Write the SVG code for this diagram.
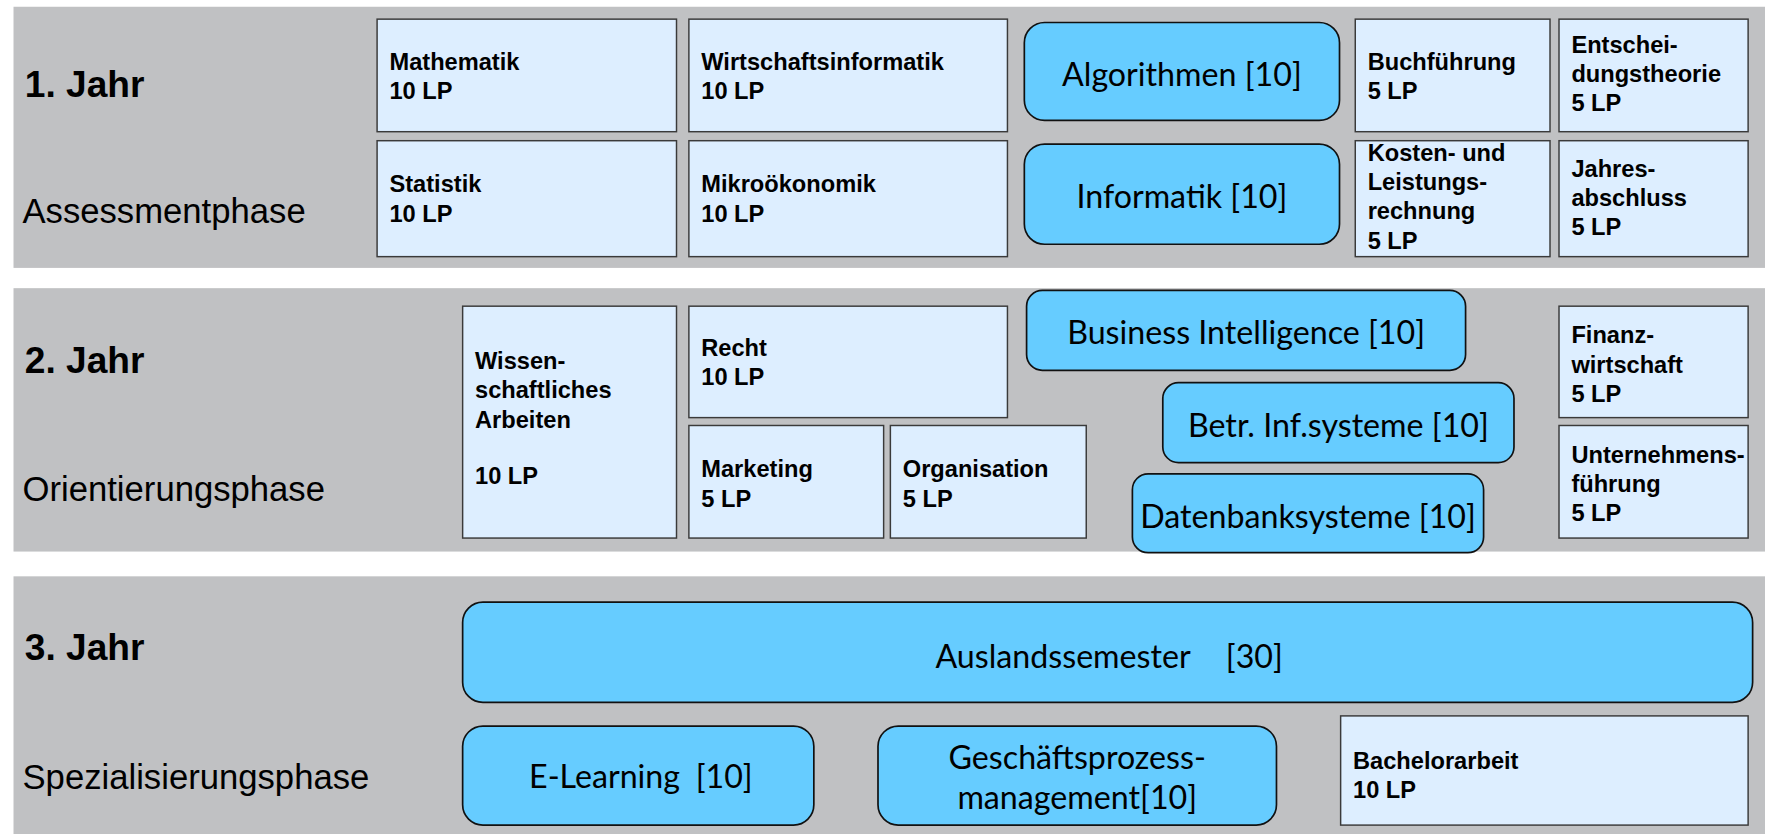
<svg xmlns="http://www.w3.org/2000/svg" width="1765" height="834" viewBox="0 0 1765 834">
<style>
.band{fill:#C0C1C3}
.box{fill:#DDEEFF;stroke:#3A3A3A;stroke-width:1.3}
.rb{fill:#66CCFF;stroke:#111;stroke-width:1.5}
.lb{font-family:"Liberation Sans",Arial,sans-serif;font-weight:bold;font-size:21px;fill:#000}
.yr{font-family:"Liberation Sans",Arial,sans-serif;font-weight:bold;font-size:33px;fill:#000}
.ph{font-family:"Liberation Sans",Arial,sans-serif;font-size:30.8px;fill:#000}
.rt{font-family:Lato,"Open Sans",sans-serif;font-size:28.6px;fill:#000;text-anchor:middle}
.rs{font-family:Lato,"Open Sans",sans-serif;font-size:28.6px;fill:#000}
</style>
<rect width="1765" height="834" fill="#fff"/>
<g transform="scale(1.12564)">
<g id="bands">
<rect class="band" x="12" y="6" width="1560" height="232"/>
<rect class="band" x="12" y="256" width="1560" height="234"/>
<rect class="band" x="12" y="512" width="1560" height="232"/>
<text class="yr" x="22" y="86">1. Jahr</text>
<text class="ph" x="20" y="198">Assessmentphase</text>
<text class="yr" x="22" y="331">2. Jahr</text>
<text class="ph" x="20" y="445">Orientierungsphase</text>
<text class="yr" x="22" y="586">3. Jahr</text>
<text class="ph" x="20" y="701">Spezialisierungsphase</text>
</g>
<g id="connectors"></g>
<g id="mathematik"><rect class="box" x="335" y="17" width="266" height="100"/><text class="lb" x="346" y="62">Mathematik</text><text class="lb" x="346" y="88">10 LP</text></g>
<g id="statistik"><rect class="box" x="335" y="125" width="266" height="103"/><text class="lb" x="346" y="171">Statistik</text><text class="lb" x="346" y="197">10 LP</text></g>
<g id="wirtschaftsinformatik"><rect class="box" x="612" y="17" width="283" height="100"/><text class="lb" x="623" y="62">Wirtschaftsinformatik</text><text class="lb" x="623" y="88">10 LP</text></g>
<g id="mikrooekonomik"><rect class="box" x="612" y="125" width="283" height="103"/><text class="lb" x="623" y="171">Mikroökonomik</text><text class="lb" x="623" y="197">10 LP</text></g>
<g id="algorithmen"><rect class="rb" x="910" y="20" width="280" height="87" rx="18"/><text class="rt" x="1050" y="76">Algorithmen [10]</text></g>
<g id="informatik"><rect class="rb" x="910" y="128" width="280" height="89" rx="18"/><text class="rt" x="1050" y="185">Informatik [10]</text></g>
<g id="buchfuehrung"><rect class="box" x="1204" y="17" width="173" height="100"/><text class="lb" x="1215" y="62">Buchführung</text><text class="lb" x="1215" y="88">5 LP</text></g>
<g id="entscheidungstheorie"><rect class="box" x="1385" y="17" width="168" height="100"/><text class="lb" x="1396" y="47">Entschei-</text><text class="lb" x="1396" y="73">dungstheorie</text><text class="lb" x="1396" y="99">5 LP</text></g>
<g id="kosten"><rect class="box" x="1204" y="125" width="173" height="103"/><text class="lb" x="1215" y="143">Kosten- und</text><text class="lb" x="1215" y="169">Leistungs-</text><text class="lb" x="1215" y="195">rechnung</text><text class="lb" x="1215" y="221">5 LP</text></g>
<g id="jahresabschluss"><rect class="box" x="1385" y="125" width="168" height="103"/><text class="lb" x="1396" y="157">Jahres-</text><text class="lb" x="1396" y="183">abschluss</text><text class="lb" x="1396" y="209">5 LP</text></g>
<g id="wissenschaftliches"><rect class="box" x="411" y="272" width="190" height="206"/><text class="lb" x="422" y="328">Wissen-</text><text class="lb" x="422" y="354">schaftliches</text><text class="lb" x="422" y="380">Arbeiten</text><text class="lb" x="422" y="430">10 LP</text></g>
<g id="recht"><rect class="box" x="612" y="272" width="283" height="99"/><text class="lb" x="623" y="316">Recht</text><text class="lb" x="623" y="342">10 LP</text></g>
<g id="marketing"><rect class="box" x="612" y="378" width="173" height="100"/><text class="lb" x="623" y="424">Marketing</text><text class="lb" x="623" y="450">5 LP</text></g>
<g id="organisation"><rect class="box" x="791" y="378" width="174" height="100"/><text class="lb" x="802" y="424">Organisation</text><text class="lb" x="802" y="450">5 LP</text></g>
<g id="business-intelligence"><rect class="rb" x="912" y="258" width="390" height="71" rx="14"/><text class="rt" x="1107" y="306">Business Intelligence [10]</text></g>
<g id="betr-infsysteme"><rect class="rb" x="1033" y="340" width="312" height="71" rx="14"/><text class="rt" x="1189" y="388">Betr. Inf.systeme [10]</text></g>
<g id="datenbanksysteme"><rect class="rb" x="1006" y="421" width="312" height="70" rx="14"/><text class="rt" x="1162" y="469">Datenbanksysteme [10]</text></g>
<g id="finanzwirtschaft"><rect class="box" x="1385" y="272" width="168" height="99"/><text class="lb" x="1396" y="305">Finanz-</text><text class="lb" x="1396" y="331">wirtschaft</text><text class="lb" x="1396" y="357">5 LP</text></g>
<g id="unternehmensfuehrung"><rect class="box" x="1385" y="378" width="168" height="100"/><text class="lb" x="1396" y="411">Unternehmens-</text><text class="lb" x="1396" y="437">führung</text><text class="lb" x="1396" y="463">5 LP</text></g>
<g id="auslandssemester"><rect class="rb" x="411" y="535" width="1146" height="89" rx="18"/><text class="rs" x="831" y="593">Auslandssemester</text><text class="rs" x="1089" y="593">[30]</text></g>
<g id="e-learning"><rect class="rb" x="411" y="645" width="312" height="88" rx="18"/><text class="rs" x="470" y="700">E-Learning</text><text class="rs" x="618" y="700">[10]</text></g>
<g id="geschaeftsprozessmanagement"><rect class="rb" x="780" y="645" width="354" height="88" rx="18"/><text class="rt" x="957" y="683">Geschäftsprozess-</text><text class="rt" x="957" y="719">management[10]</text></g>
<g id="bachelorarbeit"><rect class="box" x="1191" y="636" width="362" height="97"/><text class="lb" x="1202" y="683">Bachelorarbeit</text><text class="lb" x="1202" y="709">10 LP</text></g>
</g>
</svg>
